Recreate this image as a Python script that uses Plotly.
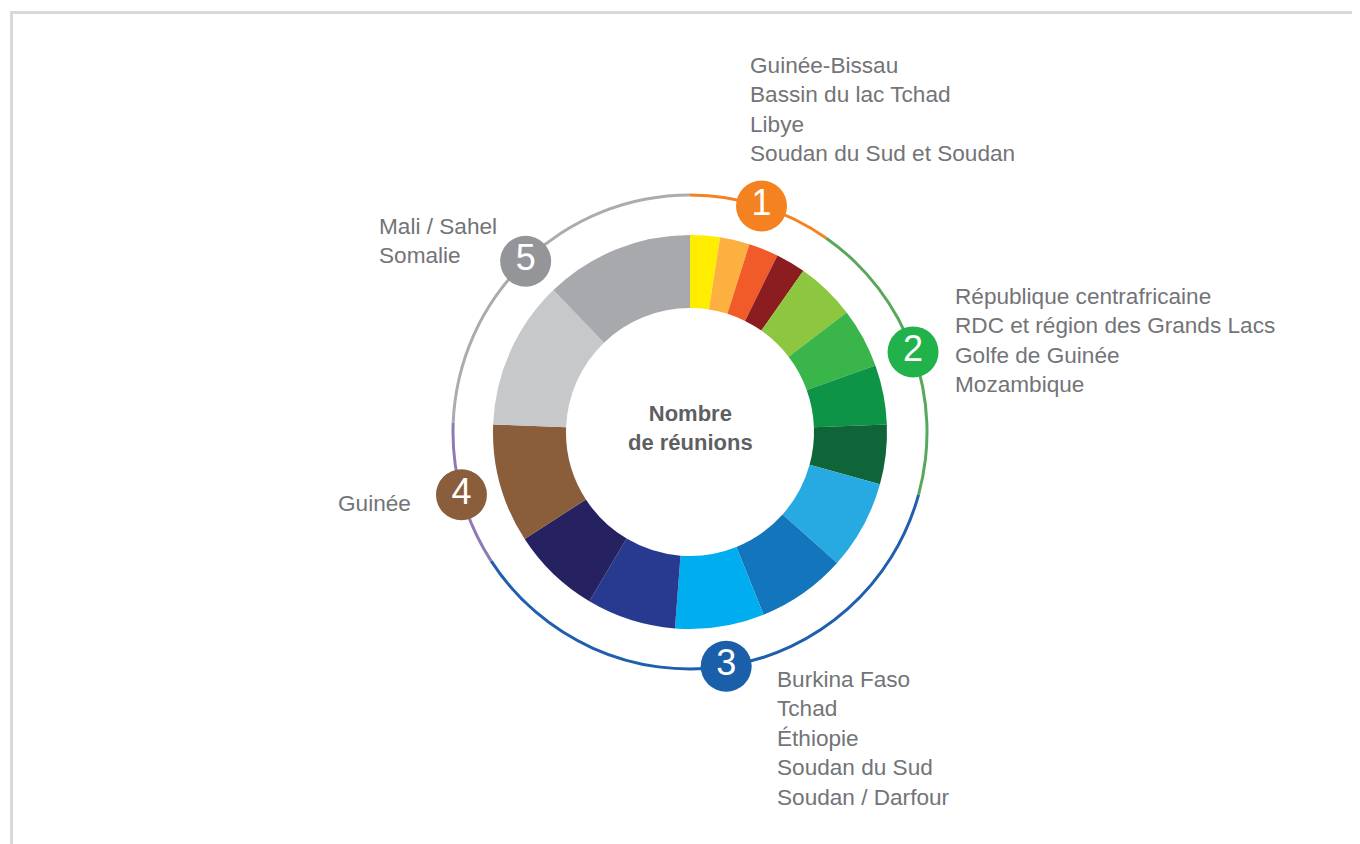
import plotly.graph_objects as go
import numpy as np

# ---------------- data ----------------
regions = [
    "Guinée-Bissau", "Bassin du lac Tchad", "Libye", "Soudan du Sud et Soudan",
    "République centrafricaine", "RDC et région des Grands Lacs", "Golfe de Guinée", "Mozambique",
    "Burkina Faso", "Tchad", "Éthiopie", "Soudan du Sud", "Soudan / Darfour",
    "Guinée",
    "Mali / Sahel", "Somalie",
]
meetings = [1, 1, 1, 1, 2, 2, 2, 2, 3, 3, 3, 3, 3, 4, 5, 5]
slice_colors = [
    "#FFED00", "#FBB040", "#F15A29", "#8B1C1F",
    "#8DC63F", "#3AB54A", "#0D9447", "#0F6537",
    "#27AAE1", "#1375BC", "#00AEEF", "#283A90", "#262262",
    "#8A5D3B",
    "#C7C8CA", "#A7A9AC",
]
groups = [1, 2, 3, 4, 5]
group_labels = [
    ["Guinée-Bissau", "Bassin du lac Tchad", "Libye", "Soudan du Sud et Soudan"],
    ["République centrafricaine", "RDC et région des Grands Lacs", "Golfe de Guinée", "Mozambique"],
    ["Burkina Faso", "Tchad", "Éthiopie", "Soudan du Sud", "Soudan / Darfour"],
    ["Guinée"],
    ["Mali / Sahel", "Somalie"],
]
ring_colors = ["#F58220", "#58A85C", "#1F5FAD", "#8E7BB5", "#ABACAE"]
badge_colors = ["#F58220", "#22B24C", "#1B5FAA", "#8A5D3B", "#939598"]
center_title = "Nombre<br>de réunions"

# ---------------- geometry (layout) ----------------
W, H = 1360, 844
OFF = 8  # page body margin offset
CX, CY = 690 - OFF, 432 - OFF
R_DONUT = 197
R_HOLE = 124
R_POLAR = 240
R_RING = 237
RING_W = 3

group_totals = [sum(m for m in meetings if m == g) for g in groups]
total = sum(group_totals)
cum = np.cumsum([0] + group_totals)
theta_mid = [(cum[i] + cum[i + 1]) / 2 / total * 360 for i in range(len(groups))]
theta_width = [t / total * 360 for t in group_totals]


def dom(r):
    return dict(x=[(CX - r) / W, (CX + r) / W], y=[(H - CY - r) / H, (H - CY + r) / H])


fig = go.Figure()

fig.add_trace(go.Pie(
    labels=regions, values=meetings, sort=False, direction="clockwise", rotation=0,
    hole=R_HOLE / R_DONUT, marker=dict(colors=slice_colors, line=dict(width=0)),
    textinfo="none", domain=dom(R_DONUT), showlegend=False, hoverinfo="label+value",
))

fig.add_trace(go.Barpolar(
    theta=theta_mid, width=theta_width,
    r=[RING_W / R_POLAR] * len(groups),
    base=[(R_RING - RING_W / 2) / R_POLAR] * len(groups),
    marker=dict(color=ring_colors, line=dict(width=0)),
    hoverinfo="skip", showlegend=False,
))

fig.add_trace(go.Scatterpolar(
    theta=theta_mid, r=[R_RING / R_POLAR] * len(groups),
    mode="markers+text", text=[str(g) for g in groups],
    textposition="middle center",
    textfont=dict(family="Liberation Sans, Arial, sans-serif", size=36, color="white"),
    marker=dict(size=51, color=badge_colors, line=dict(width=0)),
    hoverinfo="skip", showlegend=False, cliponaxis=False,
))

label_font = dict(family="Liberation Sans, Arial, sans-serif", size=22.6, color="#737477")
label_pos = [
    dict(x=748, y=109, xanchor="left", align="left"),
    dict(x=953, y=340.5, xanchor="left", align="left"),
    dict(x=775, y=738.5, xanchor="left", align="left"),
    dict(x=413, y=504, xanchor="right", align="right"),
    dict(x=377, y=241, xanchor="left", align="left"),
]
annotations = []
for lab, p in zip(group_labels, label_pos):
    annotations.append(dict(
        x=(p["x"] - OFF) / W, y=1 - (p["y"] - OFF) / H, xref="paper", yref="paper",
        xanchor=p["xanchor"], yanchor="middle", align=p["align"],
        text="<br>".join(lab), showarrow=False, font=label_font,
    ))
annotations.append(dict(
    x=CX / W, y=1 - (428 - OFF) / H, xref="paper", yref="paper", xanchor="center", yanchor="middle",
    text="<b>" + center_title.replace("<br>", "</b><br><b>") + "</b>", showarrow=False,
    font=dict(family="Liberation Sans, Arial, sans-serif", size=22, color="#5E5F62"),
))

frame_color = "#D9D9D9"
ty = 12.5 - OFF
lx = 11.5 - OFF
shapes = [
    dict(type="line", xref="paper", yref="paper", x0=(10 - OFF) / W, x1=1, y0=1 - ty / H, y1=1 - ty / H,
         line=dict(color=frame_color, width=3)),
    dict(type="line", xref="paper", yref="paper", x0=lx / W, x1=lx / W, y0=0, y1=1 - (ty - 1.5) / H,
         line=dict(color=frame_color, width=3)),
]

fig.update_layout(
    width=W, height=H, margin=dict(l=0, r=0, t=0, b=0),
    paper_bgcolor="white", plot_bgcolor="white", showlegend=False,
    polar=dict(
        domain=dom(R_POLAR), bgcolor="rgba(0,0,0,0)",
        angularaxis=dict(visible=False, rotation=90, direction="clockwise"),
        radialaxis=dict(visible=False, range=[0, 1]),
    ),
    annotations=annotations, shapes=shapes,
)

fig.write_html("out.html")
